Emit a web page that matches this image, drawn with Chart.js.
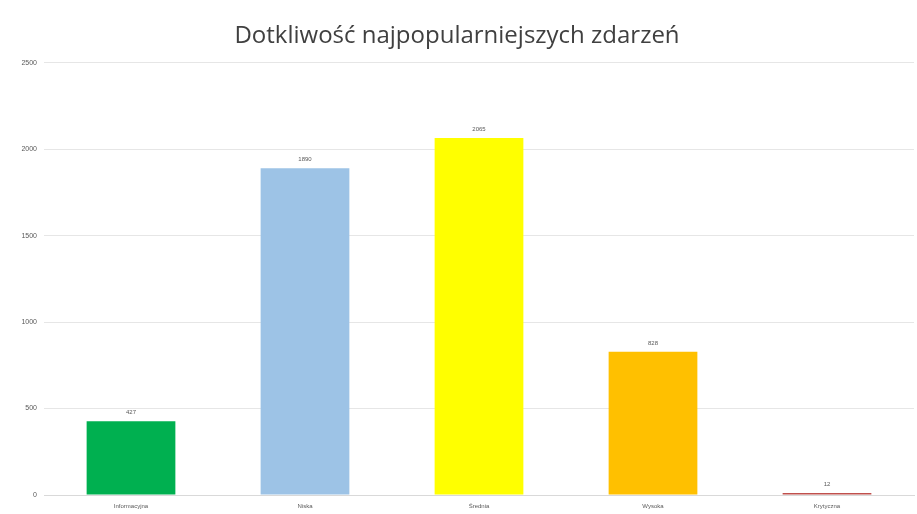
<!DOCTYPE html>
<html lang="pl">
<head>
<meta charset="utf-8">
<title>Dotkliwość najpopularniejszych zdarzeń</title>
<script src="https://cdn.jsdelivr.net/npm/chart.js@4/dist/chart.umd.min.js"></script>
<style>
  html, body { margin: 0; padding: 0; background: #ffffff; }
  #wrap { width: 917px; height: 514px; position: relative; }
</style>
</head>
<body>
<div id="wrap"><canvas id="chart"></canvas></div>
<script>
// Poziomy dotkliwości i liczba zdarzeń
const categories = ["Informacyjna", "Niska", "Średnia", "Wysoka", "Krytyczna"];
const counts = [427, 1890, 2065, 828, 12];
const barColors = ["#00B050", "#9DC3E6", "#FFFF00", "#FFC000", "#C0504D"];
const yTicks = [0, 500, 1000, 1500, 2000, 2500];

// Wartości nad słupkami
const valueLabels = {
  id: "valueLabels",
  afterDatasetsDraw(chart) {
    const ctx = chart.ctx;
    const meta = chart.getDatasetMeta(0);
    ctx.save();
    ctx.font = "6px 'Liberation Sans', sans-serif";
    ctx.fillStyle = "#595959";
    ctx.textAlign = "center";
    ctx.textBaseline = "bottom";
    meta.data.forEach((bar, i) => {
      ctx.fillText(String(counts[i]), bar.x, bar.y - 6);
    });
    ctx.restore();
  }
};

new Chart(document.getElementById("chart"), {
  type: "bar",
  data: {
    labels: categories,
    datasets: [{
      data: counts,
      backgroundColor: barColors,
      borderWidth: 0,
      categoryPercentage: 1.0,
      barPercentage: 0.51
    }]
  },
  options: {
    responsive: true,
    maintainAspectRatio: false,
    animation: false,
    layout: { padding: { left: 0, right: 3, top: 14, bottom: 0 } },
    plugins: {
      legend: { display: false },
      tooltip: { enabled: false },
      title: {
        display: true,
        text: "Dotkliwość najpopularniejszych zdarzeń",
        color: "#404040",
        font: { family: "'Open Sans', 'Liberation Sans', sans-serif", size: 24, weight: "normal" },
        padding: { top: 8, bottom: 12 }
      }
    },
    scales: {
      x: {
        grid: { display: false, drawTicks: false },
        border: { color: "#d9d9d9", width: 1 },
        ticks: {
          color: "#595959",
          font: { family: "'Liberation Sans', sans-serif", size: 6 },
          padding: 8,
          maxRotation: 0
        },
        afterFit(scale) { scale.height = 19; }
      },
      y: {
        min: 0,
        max: 2500,
        afterBuildTicks(scale) { scale.ticks = yTicks.map(v => ({ value: v })); },
        grid: { color: "#e6e6e6", drawTicks: false },
        border: { display: false },
        ticks: {
          color: "#595959",
          font: { family: "'Liberation Sans', sans-serif", size: 7 },
          padding: 7,
          callback: (value) => String(value)
        },
        afterFit(scale) { scale.width = 44; }
      }
    }
  },
  plugins: [valueLabels]
});
</script>
</body>
</html>
